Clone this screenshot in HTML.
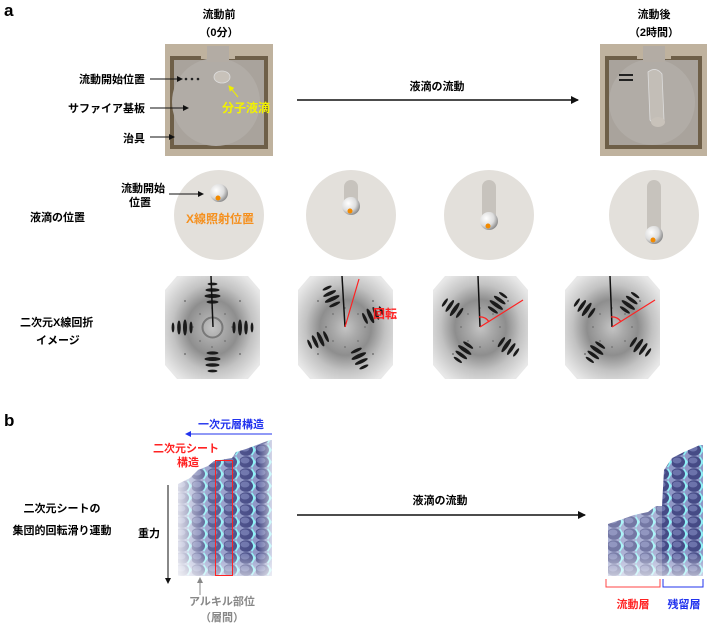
<!DOCTYPE html>
<html><head><meta charset="utf-8"><style>
body{margin:0;background:#fff;}
svg text{font-family:"Liberation Sans","Noto Sans CJK JP",sans-serif;font-weight:bold;}
</style></head><body>
<svg width="710" height="628" viewBox="0 0 710 628" xmlns="http://www.w3.org/2000/svg">
<defs>
<marker id="ah" markerWidth="8" markerHeight="8" refX="7" refY="4" orient="auto" markerUnits="userSpaceOnUse"><path d="M0,0 L8,4 L0,8 Z" fill="#111"/></marker>
<marker id="ahs" markerWidth="6" markerHeight="6" refX="5" refY="3" orient="auto" markerUnits="userSpaceOnUse"><path d="M0,0 L6,3 L0,6 Z" fill="#111"/></marker>
<marker id="ahb" markerWidth="6" markerHeight="6" refX="5" refY="3" orient="auto" markerUnits="userSpaceOnUse"><path d="M0,0 L6,3 L0,6 Z" fill="#2233ee"/></marker>
<marker id="ahg" markerWidth="6" markerHeight="6" refX="5" refY="3" orient="auto" markerUnits="userSpaceOnUse"><path d="M0,0 L6,3 L0,6 Z" fill="#888"/></marker>
<marker id="ahy" markerWidth="6" markerHeight="6" refX="5" refY="3" orient="auto" markerUnits="userSpaceOnUse"><path d="M0,0 L6,3 L0,6 Z" fill="#ee0"/></marker>
<radialGradient id="dif" cx="50%" cy="50%" r="60%"><stop offset="0" stop-color="#c4c4c4"/><stop offset="0.2" stop-color="#aaa"/><stop offset="0.45" stop-color="#8e8e8e"/><stop offset="0.7" stop-color="#c2c2c2"/><stop offset="1" stop-color="#e8e8e8"/></radialGradient>
<radialGradient id="ball" cx="35%" cy="35%" r="70%"><stop offset="0" stop-color="#fff"/><stop offset="0.6" stop-color="#ddd"/><stop offset="1" stop-color="#888"/></radialGradient>
<pattern id="mol" x="0" y="0" width="16" height="12" patternUnits="userSpaceOnUse">
<rect width="16" height="12" fill="#8f97c6"/>
<path d="M12,0 L16,6 L12,12 L9,6Z" fill="#8ff0f5"/>
<ellipse cx="6" cy="6" rx="7" ry="5.8" fill="#464b86"/>
<ellipse cx="5" cy="4.5" rx="4.5" ry="3" fill="#6c73ab"/>
</pattern>
<linearGradient id="fadeL" x1="0" x2="1"><stop offset="0" stop-color="#fff" stop-opacity="0.8"/><stop offset="0.3" stop-color="#fff" stop-opacity="0.15"/><stop offset="0.85" stop-color="#fff" stop-opacity="0"/><stop offset="1" stop-color="#fff" stop-opacity="0.6"/></linearGradient>
<linearGradient id="fadeB" x1="0" y1="0" x2="0" y2="1"><stop offset="0.82" stop-color="#fff" stop-opacity="0"/><stop offset="1" stop-color="#fff" stop-opacity="0.6"/></linearGradient>
<g id="diff">
<polygon points="12,0 83,0 95,14 95,89 83,103 12,103 0,89 0,14" fill="url(#dif)"/>
<g fill="#666" opacity="0.8"><circle cx="20" cy="25" r="1"/><circle cx="75" cy="25" r="1"/><circle cx="20" cy="78" r="1"/><circle cx="75" cy="78" r="1"/><circle cx="35" cy="38" r="0.9"/><circle cx="60" cy="38" r="0.9"/><circle cx="35" cy="65" r="0.9"/><circle cx="60" cy="65" r="0.9"/><circle cx="47" cy="32" r="0.9"/><circle cx="47" cy="71" r="0.9"/><circle cx="28" cy="51" r="0.9"/><circle cx="67" cy="51" r="0.9"/></g>
</g>
<g id="arms" fill="#1a1a1a">
<ellipse cx="47.5" cy="8" rx="5" ry="1.4"/><ellipse cx="47.5" cy="14" rx="7" ry="1.8"/><ellipse cx="47.5" cy="20" rx="8" ry="2"/><ellipse cx="47.5" cy="26" rx="6" ry="1.6"/>
<ellipse cx="47.5" cy="77" rx="6" ry="1.6"/><ellipse cx="47.5" cy="83" rx="8" ry="2"/><ellipse cx="47.5" cy="89" rx="7" ry="1.8"/><ellipse cx="47.5" cy="95" rx="5" ry="1.4"/>
<ellipse cx="8" cy="51.5" rx="1.4" ry="5"/><ellipse cx="14" cy="51.5" rx="1.8" ry="7"/><ellipse cx="20" cy="51.5" rx="2" ry="8"/><ellipse cx="26" cy="51.5" rx="1.6" ry="6"/>
<ellipse cx="69" cy="51.5" rx="1.6" ry="6"/><ellipse cx="75" cy="51.5" rx="2" ry="8"/><ellipse cx="81" cy="51.5" rx="1.8" ry="7"/><ellipse cx="87" cy="51.5" rx="1.4" ry="5"/>
</g>
</defs>

<!-- Panel a -->
<text x="4" y="16" font-size="17" fill="#000">a</text>
<text x="219" y="18" font-size="11" text-anchor="middle">流動前</text>
<text x="219" y="36" font-size="11" text-anchor="middle">（0分）</text>
<text x="654" y="18" font-size="11" text-anchor="middle">流動後</text>
<text x="654" y="36" font-size="11" text-anchor="middle">（2時間）</text>

<!-- photo 1 -->
<rect x="165" y="44" width="108" height="112" fill="#bfb29e"/>
<rect x="170" y="56" width="98" height="93" fill="#6e5f48"/>
<rect x="174" y="60" width="90" height="85" fill="#a9a39c"/>
<circle cx="216" cy="102" r="44" fill="#b1aca6"/>
<rect x="201" y="44" width="34" height="15" fill="#bfb29e"/>
<rect x="207" y="46" width="22" height="16" fill="#b3aca4"/>
<ellipse cx="222" cy="77" rx="8" ry="6" fill="#c8c2ba" stroke="#ddd" stroke-width="0.8"/>
<circle cx="186" cy="79" r="1.3" fill="#222"/><circle cx="192" cy="79" r="1.3" fill="#222"/><circle cx="198" cy="79" r="1.3" fill="#222"/>
<!-- photo 2 -->
<rect x="600" y="44" width="107" height="112" fill="#bfb29e"/>
<rect x="605" y="56" width="97" height="93" fill="#6e5f48"/>
<rect x="609" y="60" width="89" height="85" fill="#a9a39c"/>
<circle cx="652" cy="102" r="43" fill="#b1aca6"/>
<rect x="637" y="44" width="34" height="15" fill="#bfb29e"/>
<rect x="643" y="46" width="22" height="16" fill="#b3aca4"/>
<path d="M648,72 Q656,66 662,74 L664,120 Q656,128 650,120Z" fill="#c3beb7" stroke="#ddd" stroke-width="0.8"/>
<ellipse cx="658" cy="122" rx="7" ry="5" fill="#c8c2ba"/>
<g fill="#222"><rect x="619" y="74" width="14" height="2"/><rect x="619" y="79" width="14" height="2"/></g>

<text x="145" y="83" font-size="11" text-anchor="end">流動開始位置</text>
<text x="145" y="112" font-size="11" text-anchor="end">サファイア基板</text>
<text x="145" y="142" font-size="11" text-anchor="end">治具</text>
<line x1="150" y1="79" x2="182" y2="79" stroke="#111" marker-end="url(#ahs)"/>
<line x1="150" y1="108" x2="188" y2="108" stroke="#111" marker-end="url(#ahs)"/>
<line x1="150" y1="137" x2="174" y2="137" stroke="#111" marker-end="url(#ahs)"/>
<line x1="238" y1="97" x2="229" y2="86" stroke="#ee0" marker-end="url(#ahy)"/>
<text x="246" y="112" font-size="12" fill="#f2f200" text-anchor="middle">分子液滴</text>

<line x1="297" y1="100" x2="578" y2="100" stroke="#111" stroke-width="1.5" marker-end="url(#ah)"/>
<text x="437" y="90" font-size="11" text-anchor="middle">液滴の流動</text>

<!-- row 2 -->
<text x="30" y="221" font-size="11">液滴の位置</text>
<circle cx="219" cy="215" r="45" fill="#e3e0db"/>
<circle cx="351" cy="215" r="45" fill="#e3e0db"/>
<circle cx="489" cy="215" r="45" fill="#e3e0db"/>
<circle cx="654" cy="215" r="45" fill="#e3e0db"/>
<rect x="344" y="180" width="14" height="30" rx="7" fill="#c7c3bd"/>
<rect x="482" y="180" width="14" height="44" rx="7" fill="#c7c3bd"/>
<rect x="647" y="180" width="14" height="58" rx="7" fill="#c7c3bd"/>
<circle cx="219" cy="193" r="9" fill="url(#ball)"/><circle cx="218" cy="198" r="2.5" fill="#f28a00"/>
<circle cx="351" cy="206" r="9" fill="url(#ball)"/><circle cx="350" cy="211" r="2.5" fill="#f28a00"/>
<circle cx="489" cy="221" r="9" fill="url(#ball)"/><circle cx="488" cy="226" r="2.5" fill="#f28a00"/>
<circle cx="654" cy="235" r="9" fill="url(#ball)"/><circle cx="653" cy="240" r="2.5" fill="#f28a00"/>
<text x="165" y="192" font-size="11" text-anchor="end">流動開始</text>
<text x="140" y="206" font-size="11" text-anchor="middle">位置</text>
<line x1="169" y1="194" x2="203" y2="194" stroke="#111" marker-end="url(#ahs)"/>
<text x="220" y="223" font-size="12" fill="#f5901e" text-anchor="middle">X線照射位置</text>

<!-- row 3 -->
<text x="20" y="326" font-size="11">二次元X線回折</text>
<text x="36" y="344" font-size="11">イメージ</text>
<g transform="translate(165,276)"><use href="#diff"/><use href="#arms"/>
<circle cx="47.5" cy="51.5" r="10" fill="none" stroke="#555" stroke-width="2" opacity="0.6"/>
<line x1="46" y1="0" x2="48" y2="51" stroke="#111" stroke-width="1.5"/></g>
<g transform="translate(298,276)"><use href="#diff"/>
<use href="#arms" transform="rotate(-25 47.5 51.5)"/>
<line x1="44" y1="0" x2="47" y2="51" stroke="#111" stroke-width="1.5"/>
<line x1="47" y1="51" x2="61" y2="3" stroke="#f22" stroke-width="1.2"/></g>
<text x="373" y="318" font-size="12" fill="#f22">回転</text>
<g transform="translate(433,276)"><use href="#diff"/>
<use href="#arms" transform="rotate(-55 47.5 51.5)"/>
<line x1="45" y1="0" x2="47" y2="51" stroke="#111" stroke-width="1.5"/>
<line x1="47" y1="51" x2="90" y2="24" stroke="#f22" stroke-width="1.2"/>
<path d="M46,41 A10,10 0 0 1 56,46" fill="none" stroke="#f22" stroke-width="1.2"/></g>
<g transform="translate(565,276)"><use href="#diff"/>
<use href="#arms" transform="rotate(-55 47.5 51.5)"/>
<line x1="45" y1="0" x2="47" y2="51" stroke="#111" stroke-width="1.5"/>
<line x1="47" y1="51" x2="90" y2="24" stroke="#f22" stroke-width="1.2"/>
<path d="M46,41 A10,10 0 0 1 56,46" fill="none" stroke="#f22" stroke-width="1.2"/></g>

<!-- Panel b -->
<text x="4" y="426" font-size="17">b</text>

<!-- stack left -->
<g>
<path d="M178,576 L178,484 L190,478 L198,470 L208,466 L214,461 L232,458 L236,452 L246,449 L254,446 L262,443 L270,440 L272,440 L272,576 Z" fill="url(#mol)"/>
<rect x="178" y="440" width="94" height="137" fill="url(#fadeL)"/>
<rect x="178" y="440" width="94" height="137" fill="url(#fadeB)"/>
</g>
<rect x="215.5" y="460.5" width="17" height="115" fill="none" stroke="#f22" stroke-width="1"/>
<text x="231" y="428" font-size="11" fill="#2233ee" text-anchor="middle">一次元層構造</text>
<line x1="272" y1="434" x2="186" y2="434" stroke="#2233ee" marker-end="url(#ahb)"/>
<text x="186" y="452" font-size="11" fill="#f22" text-anchor="middle">二次元シート</text>
<text x="188" y="466" font-size="11" fill="#f22" text-anchor="middle">構造</text>
<line x1="168" y1="485" x2="168" y2="583" stroke="#111" marker-end="url(#ahs)"/>
<text x="138" y="537" font-size="11">重力</text>
<text x="62" y="512" font-size="11" text-anchor="middle">二次元シートの</text>
<text x="62" y="534" font-size="11" text-anchor="middle">集団的回転滑り運動</text>
<line x1="200" y1="595" x2="200" y2="578" stroke="#888" marker-end="url(#ahg)"/>
<text x="222" y="605" font-size="11" fill="#888" text-anchor="middle" font-weight="normal">アルキル部位</text>
<text x="222" y="621" font-size="11" fill="#888" text-anchor="middle" font-weight="normal">（層間）</text>

<line x1="297" y1="515" x2="585" y2="515" stroke="#111" stroke-width="1.5" marker-end="url(#ah)"/>
<text x="440" y="504" font-size="11" text-anchor="middle">液滴の流動</text>

<!-- stack right -->
<g>
<path d="M608,576 L608,524 L620,520 L634,515 L648,512 L656,506 L662,506 L664,470 L672,458 L684,452 L700,445 L703,445 L703,576 Z" fill="url(#mol)"/>
<rect x="608" y="440" width="54" height="137" fill="#fff" opacity="0.25"/>
<rect x="608" y="440" width="95" height="137" fill="url(#fadeB)"/>
</g>
<path d="M606,579 L606,587 L660,587 L660,579" fill="none" stroke="#f44" stroke-width="1"/>
<path d="M663,579 L663,587 L703,587 L703,579" fill="none" stroke="#2233ee" stroke-width="1"/>
<text x="633" y="608" font-size="11" fill="#f22" text-anchor="middle">流動層</text>
<text x="684" y="608" font-size="11" fill="#2233ee" text-anchor="middle">残留層</text>
</svg>
</body></html>
